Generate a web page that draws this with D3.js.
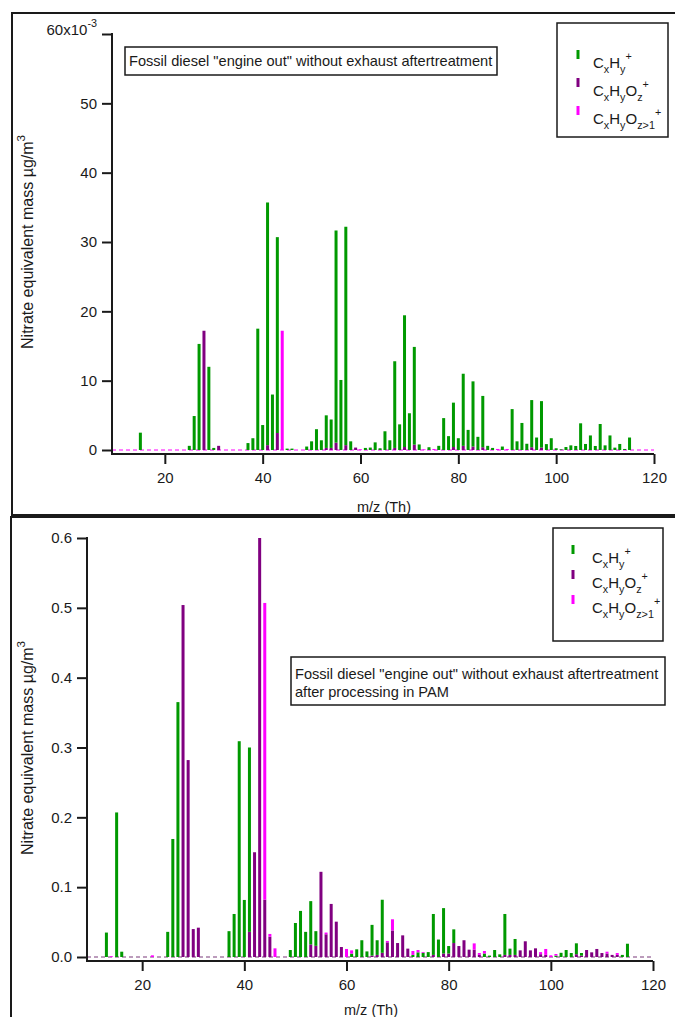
<!DOCTYPE html>
<html>
<head>
<meta charset="utf-8">
<script src="https://cdn.jsdelivr.net/npm/d3@7"></script>
<style>
  body { margin: 0; background: #fff; }
  svg text { font-family: "Liberation Sans", Arial, sans-serif; fill: #1a1a1a; }
</style>
</head>
<body>
<svg id="chart" width="675" height="1017"></svg>
<script>
// pairs are [m/z, value]; families stack as CxHyOz (bottom), CxHy, CxHyOz>1 (top)
// top panel values are in 10^-3 ug/m3
var topCxHyOz = [[28,17.2],[31,0.6],[41,0.7],[43,2.45],[53,0.3],[54,0.3],[55,1.06],[57,0.7],[59,0.35],
  [67,0.3],[69,0.43],[71,0.77],[79,0.43],[81,0.6],[83,0.5],[85,0.4],[95,0.4],[97,0.35]];
var topCxHy = [[15,2.5],[25,0.6],[26,4.9],[27,15.3],[29,12.0],[30,0.3],[37,1.0],[38,1.7],[39,17.5],[40,3.6],
  [41,35.0],[42,8.0],[43,28.25],[45,0.2],[46,0.2],[49,0.5],[50,1.25],[51,3.0],[52,1.4],[53,4.7],[54,4.1],
  [55,30.6],[56,10.1],[57,31.5],[58,1.25],[61,0.3],[62,0.35],[63,1.1],[64,0.25],[65,2.7],[66,1.4],[67,12.5],
  [68,3.7],[69,19.0],[70,5.3],[71,14.1],[72,0.8],[74,0.4],[76,0.6],[77,4.6],[78,2.0],[79,6.4],[80,1.7],
  [81,10.4],[82,2.9],[83,9.4],[84,1.9],[85,7.4],[86,0.6],[87,0.3],[89,0.5],[91,5.9],[92,1.25],[93,3.9],
  [94,0.9],[95,6.8],[96,1.8],[97,6.7],[98,0.85],[99,1.7],[100,0.25],[101,0.1],[102,0.43],[103,0.67],
  [104,0.58],[105,3.85],[106,0.87],[107,2.1],[108,0.58],[109,3.75],[110,0.67],[111,2.1],[112,0.34],
  [113,0.87],[114,0.15],[115,1.8]];
var topCxHyOz2 = [[44,17.2],[60,0.1],[73,0.1],[75,0.15],[88,0.15],[90,0.15]];

// bottom panel values are in ug/m3 (after PAM)
var botCxHyOz = [[28,0.504],[29,0.282],[30,0.040],[31,0.042],[41,0.036],[42,0.150],[43,0.600],[44,0.082],
  [45,0.029],[53,0.018],[54,0.016],[55,0.122],[56,0.0325],[57,0.076],[58,0.0506],[59,0.0143],[65,0.002],
  [66,0.003],[67,0.006],[68,0.021],[69,0.038],[70,0.020],[71,0.031],[72,0.012],[77,0.003],[79,0.005],
  [80,0.005],[81,0.020],[82,0.0157],[83,0.024],[84,0.0105],[85,0.0105],[86,0.003],[91,0.003],[92,0.003],
  [93,0.003],[94,0.0095],[95,0.0225],[96,0.0095],[97,0.0124],[98,0.004],[99,0.003],[105,0.004],[106,0.002],
  [107,0.010],[108,0.0067],[109,0.0115],[110,0.0057],[111,0.005],[112,0.003],[113,0.003]];
var botCxHy = [[13,0.035],[15,0.207],[16,0.0076],[25,0.036],[26,0.169],[27,0.365],[37,0.037],[38,0.0616],
  [39,0.309],[40,0.0817],[41,0.264],[49,0.010],[50,0.0487],[51,0.066],[52,0.036],[53,0.062],[54,0.021],
  [61,0.0048],[62,0.011],[63,0.024],[64,0.008],[65,0.044],[66,0.021],[67,0.076],[73,0.003],[74,0.0067],
  [75,0.006],[76,0.007],[77,0.0586],[78,0.025],[79,0.065],[80,0.0107],[81,0.0196],[87,0.005],[88,0.002],
  [89,0.010],[90,0.0038],[91,0.0586],[92,0.009],[93,0.0228],[101,0.002],[102,0.006],[103,0.010],
  [104,0.0057],[105,0.0156],[106,0.0037],[114,0.003],[115,0.019]];
var botCxHyOz2 = [[14,0.001],[22,0.0024],[44,0.425],[45,0.004],[46,0.0124],[56,0.0025],[60,0.0115],
  [61,0.0047],[68,0.002],[69,0.016],[73,0.0056],[74,0.0033],[75,0.001],[85,0.009],[86,0.0027],[87,0.0036],
  [98,0.003],[99,0.0085],[100,0.0024],[101,0.0023],[111,0.0026],[113,0.0027]];

var xTicks = [20, 40, 60, 80, 100, 120];
var topYTicks = [0, 10, 20, 30, 40, 50, 60];
var botYTicks = [0, 0.1, 0.2, 0.3, 0.4, 0.5, 0.6];

var colOz = "#800080", colHy = "#009900", colOz2 = "#ff00ff";
var svg = d3.select("#chart");

// panel frames
svg.append("rect").attr("x", 12).attr("y", 13).attr("width", 700).attr("height", 502)
  .attr("fill", "none").attr("stroke", "#1a1a1a").attr("stroke-width", 2);
svg.append("rect").attr("x", 11).attr("y", 517).attr("width", 700).attr("height", 520)
  .attr("fill", "none").attr("stroke", "#1a1a1a").attr("stroke-width", 2);

// text with sub/superscripts: parts = [[text, "sub"|"sup"|""], ...]
function richText(sel, parts, size) {
  var shift = 0;
  parts.forEach(function(p) {
    var target = p[1] === "sub" ? Math.round(size * 0.3) : p[1] === "sup" ? -Math.round(size * 0.5) : 0;
    sel.append("tspan")
      .attr("dy", target - shift)
      .style("font-size", (p[1] ? size * 0.72 : size) + "px")
      .text(p[0]);
    shift = target;
  });
}

function drawPanel(o) {
  var g = svg.append("g");
  var x = d3.scaleLinear().domain([9.2, 120]).range([o.left, o.right]);
  var y = d3.scaleLinear().domain([0, o.ymax]).range([o.y0, o.ytop]);

  // zero line
  g.append("line")
    .attr("x1", x(9.2)).attr("x2", x(120)).attr("y1", y(0)).attr("y2", y(0))
    .attr("stroke", o.dashColor).attr("stroke-width", 1.2).attr("stroke-dasharray", "4,3");

  // stacked bars
  var base = {};
  o.series.forEach(function(s) {
    g.append("g").selectAll("rect")
      .data(s.data.map(function(d) {
        var b = base[d[0]] || 0;
        base[d[0]] = b + d[1];
        return {mz: d[0], y0: b, y1: b + d[1]};
      }))
      .enter().append("rect")
      .attr("x", function(d) { return x(d.mz) - 1.5; })
      .attr("width", 3)
      .attr("y", function(d) { return y(d.y1); })
      .attr("height", function(d) { return Math.max(0.8, y(d.y0) - y(d.y1)); })
      .attr("fill", s.color);
  });

  // axes
  var xa = g.append("g").attr("transform", "translate(0," + o.xAxisY + ")")
    .call(d3.axisBottom(x).tickValues(xTicks).tickSize(10).tickPadding(8).tickSizeOuter(0));
  xa.select(".domain").remove();
  xa.selectAll("line").attr("stroke", "#1a1a1a").attr("stroke-width", 2);
  xa.selectAll("text").style("font-size", "15px").attr("fill", "#1a1a1a");
  g.append("line").attr("x1", o.left).attr("x2", o.right).attr("y1", o.xAxisY).attr("y2", o.xAxisY)
    .attr("stroke", "#1a1a1a").attr("stroke-width", 2);

  var ya = g.append("g").attr("transform", "translate(" + o.left + ",0)")
    .call(d3.axisLeft(y).tickValues(o.yTicks).tickSize(10).tickPadding(5).tickSizeOuter(0)
      .tickFormat(o.yFormat));
  ya.select(".domain").remove();
  ya.selectAll("line").attr("stroke", "#1a1a1a").attr("stroke-width", 2);
  ya.selectAll("text").style("font-size", "15px").attr("fill", "#1a1a1a");
  g.append("line").attr("x1", o.left).attr("x2", o.left).attr("y1", o.ytop - 1).attr("y2", o.xAxisY + 1)
    .attr("stroke", "#1a1a1a").attr("stroke-width", 2);

  if (o.topLabel) {
    ya.selectAll("text").filter(function(d) { return d === o.ymax; })
      .text(null)
      .call(function(t) { richText(t, [["60x10", ""], ["-3", "sup"]], 15); });
  }

  // axis titles
  g.append("text").attr("x", o.xTitleX).attr("y", o.xTitleY).attr("text-anchor", "middle")
    .style("font-size", "14.5px").text("m/z (Th)");
  var yt = g.append("text").attr("transform", "translate(33," + o.yTitleY + ") rotate(-90)")
    .attr("text-anchor", "middle").style("font-size", "16px");
  richText(yt, [["Nitrate equivalent mass \u00b5g/m", ""], ["3", "sup"]], 16);

  // legend
  var L = o.legend;
  g.append("rect").attr("x", L.x).attr("y", L.y).attr("width", L.w).attr("height", L.h)
    .attr("fill", "#fff").attr("stroke", "#1a1a1a").attr("stroke-width", 1.5);
  var labels = [
    [["C", ""], ["x", "sub"], ["H", ""], ["y", "sub"], ["+", "sup"]],
    [["C", ""], ["x", "sub"], ["H", ""], ["y", "sub"], ["O", ""], ["z", "sub"], ["+", "sup"]],
    [["C", ""], ["x", "sub"], ["H", ""], ["y", "sub"], ["O", ""], ["z>1", "sub"], ["+", "sup"]]
  ];
  [colHy, colOz, colOz2].forEach(function(c, i) {
    g.append("rect").attr("x", L.mx - 1.5).attr("y", L.rows[i] - 18).attr("width", 3).attr("height", 9)
      .attr("fill", c);
    var t = g.append("text").attr("x", L.tx).attr("y", L.rows[i]).style("font-size", "15px");
    richText(t, labels[i], 15);
  });

  // annotation
  var A = o.note;
  g.append("rect").attr("x", A.x).attr("y", A.y).attr("width", A.w).attr("height", A.h)
    .attr("fill", "#fff").attr("stroke", "#1a1a1a").attr("stroke-width", 1.5);
  A.lines.forEach(function(s, i) {
    g.append("text").attr("x", A.x + 4).attr("y", A.base[i]).style("font-size", "14.6px").text(s);
  });
}

drawPanel({
  left: 112, right: 654, y0: 450, ytop: 34, xAxisY: 454, ymax: 60,
  yTicks: topYTicks, yFormat: d3.format("d"), topLabel: true,
  dashColor: colOz2,
  series: [{data: topCxHyOz, color: colOz}, {data: topCxHy, color: colHy}, {data: topCxHyOz2, color: colOz2}],
  xTitleX: 384, xTitleY: 512, yTitleY: 242,
  legend: {x: 557, y: 23, w: 111, h: 114, mx: 578, tx: 593, rows: [68, 96, 124]},
  note: {x: 125, y: 47, w: 372, h: 28, base: [66], lines: ["Fossil diesel \"engine out\" without exhaust aftertreatment"]}
});

drawPanel({
  left: 87, right: 653, y0: 957, ytop: 538, xAxisY: 961, ymax: 0.6,
  yTicks: botYTicks, yFormat: d3.format(".1f"), topLabel: false,
  dashColor: "#7a3a7a",
  series: [{data: botCxHyOz, color: colOz}, {data: botCxHy, color: colHy}, {data: botCxHyOz2, color: colOz2}],
  xTitleX: 371, xTitleY: 1015, yTitleY: 748,
  legend: {x: 553, y: 528, w: 110, h: 113, mx: 573, tx: 592, rows: [563, 588, 613]},
  note: {x: 291, y: 657, w: 374, h: 48, base: [679, 697],
    lines: ["Fossil diesel \"engine out\" without exhaust aftertreatment", "after processing in PAM"]}
});
</script>
</body>
</html>
